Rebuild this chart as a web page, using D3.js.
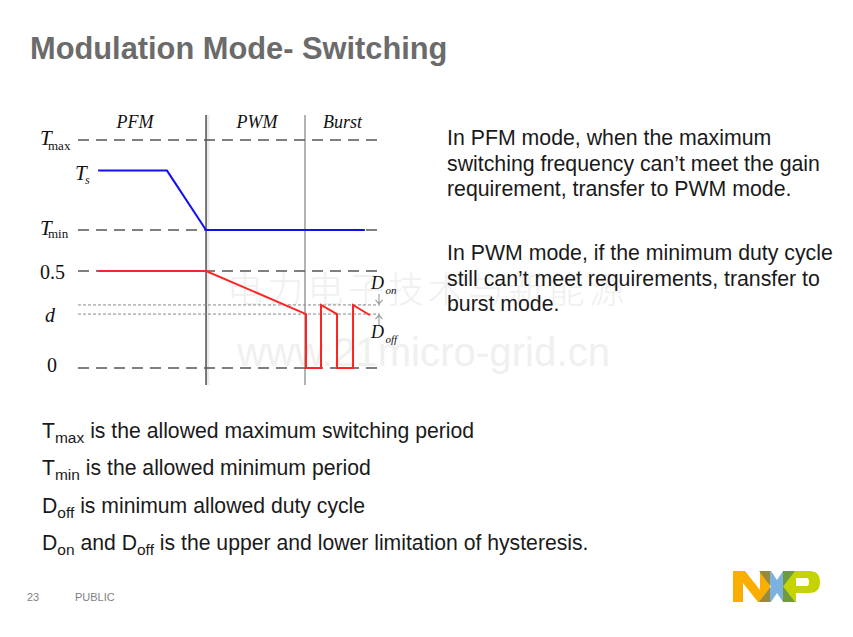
<!DOCTYPE html>
<html>
<head>
<meta charset="utf-8">
<script src="https://cdn.jsdelivr.net/npm/d3@7/dist/d3.min.js"></script>
<style>
  html, body { margin: 0; padding: 0; background: #fff; }
  svg { display: block; }
</style>
</head>
<body>
<div id="slide"></div>
<script>
// Modulation mode diagram: PFM -> PWM -> Burst

// mode regions, in time units along the diagram
const modeNames = ['PFM', 'PWM', 'Burst'];
const modeBounds = [0, 12.72, 22.55, 30];

// period axis (normalised so Tmin = 1, Tmax = 2)
const periodLevels = [
  {name: 'T', sub: 'max', value: 2},
  {name: 'T', sub: 'min', value: 1}
];
const tsLevel = 1.66;

// duty axis
const dutyLevels = [0.5, 0];
const hystLevels = [0.325, 0.278];   // Don upper / Doff lower

// switching period Ts (blue)
const periodSeries = [
  {t: 2.0, v: 1.66},
  {t: 8.84, v: 1.66},
  {t: 12.72, v: 1},
  {t: 28.5, v: 1}
];

// duty cycle d (red)
const dutySeries = [
  {t: 2.0, v: 0.5},
  {t: 12.72, v: 0.5},
  {t: 22.65, v: 0.278},
  {t: 22.65, v: 0},
  {t: 24.14, v: 0},
  {t: 24.14, v: 0.325},
  {t: 25.73, v: 0.278},
  {t: 25.73, v: 0},
  {t: 27.32, v: 0},
  {t: 27.32, v: 0.325},
  {t: 29.0, v: 0.272}
];

const rightText1 = [
  'In PFM mode, when the maximum',
  'switching frequency can\u2019t meet the gain',
  'requirement, transfer to PWM mode.'
];
const rightText2 = [
  'In PWM mode, if the minimum duty cycle',
  'still can\u2019t meet requirements, transfer to',
  'burst mode.'
];
const notes = [
  [{t: 'T'}, {t: 'max', sub: true}, {t: ' is the allowed maximum switching period'}],
  [{t: 'T'}, {t: 'min', sub: true}, {t: ' is the allowed minimum period'}],
  [{t: 'D'}, {t: 'off', sub: true}, {t: ' is minimum allowed duty cycle'}],
  [{t: 'D'}, {t: 'on', sub: true}, {t: ' and D'}, {t: 'off', sub: true}, {t: ' is the upper and lower limitation of hysteresis.'}]
];

const width = 853;
const height = 637;
const serif = '"Liberation Serif", "DejaVu Serif", serif';
const sans = '"Liberation Sans", Arial, sans-serif';

const svg = d3.select('#slide').append('svg')
  .attr('width', width)
  .attr('height', height);

// title
svg.append('text')
  .attr('x', 30)
  .attr('y', 59)
  .attr('fill', '#6b6b6b')
  .attr('font-family', sans)
  .attr('font-weight', 'bold')
  .attr('font-size', '30.8px')
  .text('Modulation Mode- Switching');

// watermark
svg.append('text')
  .attr('x', 227)
  .attr('y', 303)
  .attr('fill', '#f0f0f0')
  .attr('font-family', '"Noto Sans CJK SC", sans-serif')
  .attr('font-weight', 300)
  .attr('font-size', '36px')
  .attr('textLength', 398)
  .text('电力电子技术与新能源');
svg.append('text')
  .attr('x', 237)
  .attr('y', 366)
  .attr('fill', '#f0f0f0')
  .attr('font-family', sans)
  .attr('font-size', '40px')
  .attr('textLength', 373)
  .text('www.21micro-grid.cn');

// scales
const x = d3.scaleLinear().domain([0, 30]).range([78, 380]);
const periodY = d3.scaleLinear().domain([1, 2]).range([230, 140]);
const dutyY = d3.scaleLinear().domain([0, 0.5]).range([368, 271]);

const g = svg.append('g');

// mode separators
const sepColors = ['#333', '#8a8a8a'];
modeBounds.slice(1, -1).forEach((b, i) => {
  if (i === 0) {
    g.append('rect')
      .attr('x', x(b) + 0.8)
      .attr('y', 115)
      .attr('width', 2.6)
      .attr('height', 270)
      .attr('fill', '#ececec');
  }
  g.append('line')
    .attr('x1', x(b))
    .attr('x2', x(b))
    .attr('y1', 115)
    .attr('y2', 385)
    .attr('stroke', sepColors[i])
    .attr('stroke-width', 1.3);
});

// mode names
const labelShift = [-7, 1.5, 0];
g.selectAll('.mode-label')
  .data(modeNames)
  .enter().append('text')
  .attr('class', 'mode-label')
  .attr('x', (d, i) => (x(modeBounds[i]) + x(modeBounds[i + 1])) / 2 + labelShift[i])
  .attr('y', 128)
  .attr('text-anchor', 'middle')
  .attr('font-family', serif)
  .attr('font-style', 'italic')
  .attr('font-size', '18px')
  .attr('fill', '#111')
  .text(d => d);

// dashed reference lines
const dashStyle = {stroke: '#555', width: 1.4, dash: '11,7'};
periodLevels.forEach(l => {
  g.append('line')
    .attr('x1', x(0)).attr('x2', x(30))
    .attr('y1', periodY(l.value)).attr('y2', periodY(l.value))
    .attr('stroke', dashStyle.stroke)
    .attr('stroke-width', dashStyle.width)
    .attr('stroke-dasharray', dashStyle.dash);
});
dutyLevels.forEach(v => {
  g.append('line')
    .attr('x1', x(0)).attr('x2', x(30))
    .attr('y1', dutyY(v)).attr('y2', dutyY(v))
    .attr('stroke', dashStyle.stroke)
    .attr('stroke-width', dashStyle.width)
    .attr('stroke-dasharray', dashStyle.dash);
});
hystLevels.forEach(v => {
  g.append('line')
    .attr('x1', x(0)).attr('x2', x(30))
    .attr('y1', dutyY(v)).attr('y2', dutyY(v))
    .attr('stroke', '#8a8a8a')
    .attr('stroke-width', 1)
    .attr('stroke-dasharray', '3,2');
});

// left labels
periodLevels.forEach(l => {
  const t = g.append('text')
    .attr('font-family', serif)
    .attr('fill', '#111');
  t.append('tspan')
    .attr('x', 40)
    .attr('y', periodY(l.value) + 5)
    .attr('font-style', 'italic')
    .attr('font-size', '21px')
    .text(l.name);
  t.append('tspan')
    .attr('x', 48)
    .attr('y', periodY(l.value) + (l.sub === 'max' ? 10 : 8))
    .attr('font-size', '13px')
    .text(l.sub);
});

const tsText = g.append('text')
  .attr('font-family', serif)
  .attr('font-style', 'italic')
  .attr('fill', '#111');
tsText.append('tspan')
  .attr('x', 75)
  .attr('y', periodY(tsLevel) + 9)
  .attr('font-size', '21px')
  .text('T');
tsText.append('tspan')
  .attr('x', 85)
  .attr('y', periodY(tsLevel) + 13)
  .attr('font-size', '12px')
  .text('s');

g.append('text')
  .attr('x', 65)
  .attr('y', dutyY(0.5) + 8)
  .attr('text-anchor', 'end')
  .attr('font-family', serif)
  .attr('font-size', '20px')
  .attr('fill', '#111')
  .text('0.5');
g.append('text')
  .attr('x', 47)
  .attr('y', dutyY(0) + 4)
  .attr('font-family', serif)
  .attr('font-size', '20px')
  .attr('fill', '#111')
  .text('0');
g.append('text')
  .attr('x', 45)
  .attr('y', 322)
  .attr('font-family', serif)
  .attr('font-style', 'italic')
  .attr('font-size', '20px')
  .attr('fill', '#111')
  .text('d');

// hysteresis labels and arrows
const hystLabels = [
  {sub: 'on', y: 289},
  {sub: 'off', y: 338}
];
hystLabels.forEach(h => {
  const t = g.append('text')
    .attr('font-family', serif)
    .attr('font-style', 'italic')
    .attr('fill', '#111');
  t.append('tspan')
    .attr('x', 371)
    .attr('y', h.y)
    .attr('font-size', '18px')
    .text('D');
  t.append('tspan')
    .attr('x', 385.5)
    .attr('y', h.y + 5)
    .attr('font-size', '11px')
    .text(h.sub);
});

const ax = 379;
const yOn = dutyY(hystLevels[0]);
const yOff = dutyY(hystLevels[1]);
g.append('path')
  .attr('d', `M${ax},${yOn - 11}V${yOn - 1}M${ax - 3.5},${yOn - 5}L${ax},${yOn - 1}L${ax + 3.5},${yOn - 5}`)
  .attr('fill', 'none')
  .attr('stroke', '#999')
  .attr('stroke-width', 1.1);
g.append('path')
  .attr('d', `M${ax},${yOff + 11}V${yOff + 1}M${ax - 3.5},${yOff + 5}L${ax},${yOff + 1}L${ax + 3.5},${yOff + 5}`)
  .attr('fill', 'none')
  .attr('stroke', '#999')
  .attr('stroke-width', 1.1);

// waveforms
const periodLine = d3.line()
  .x(d => x(d.t))
  .y(d => periodY(d.v));
const dutyLine = d3.line()
  .x(d => x(d.t))
  .y(d => dutyY(d.v));

g.append('path')
  .datum(periodSeries)
  .attr('d', periodLine)
  .attr('fill', 'none')
  .attr('stroke', '#1010f0')
  .attr('stroke-width', 2);

g.append('path')
  .datum(dutySeries)
  .attr('d', dutyLine)
  .attr('fill', 'none')
  .attr('stroke', '#ff2424')
  .attr('stroke-width', 2);

// right-hand explanation
[rightText1, rightText2].forEach((block, bi) => {
  const base = bi === 0 ? 145 : 260;
  svg.append('text')
    .attr('font-family', sans)
    .attr('font-size', '21.3px')
    .attr('fill', '#1a1a1a')
    .selectAll('tspan')
    .data(block)
    .enter().append('tspan')
    .attr('x', 447)
    .attr('y', (d, i) => base + i * 25.5)
    .text(d => d);
});

// definitions below the diagram
notes.forEach((parts, i) => {
  const base = 438 + i * 37.3;
  const t = svg.append('text')
    .attr('x', 42)
    .attr('y', base)
    .attr('font-family', sans)
    .attr('font-size', '21.2px')
    .attr('fill', '#1a1a1a');
  parts.forEach((p, j) => {
    const prev = parts[j - 1];
    t.append('tspan')
      .attr('font-size', p.sub ? '15.5px' : '21.2px')
      .attr('dy', p.sub ? 5 : (prev && prev.sub ? -5 : 0))
      .text(p.t);
  });
});

// footer
svg.append('text')
  .attr('x', 27)
  .attr('y', 601)
  .attr('font-family', sans)
  .attr('font-size', '11px')
  .attr('fill', '#7f7f7f')
  .text('23');
svg.append('text')
  .attr('x', 75)
  .attr('y', 601)
  .attr('font-family', sans)
  .attr('font-size', '11px')
  .attr('fill', '#7f7f7f')
  .text('PUBLIC');

// NXP logo
const logo = svg.append('g');
const nPath = 'M733,571H745L760,590V571H770V602H758L743,583V602H733Z';
const xPath = 'M759,571H771L777,580L783,571H795L783,586.5L795,602H783L777,593L771,602H759L771,586.5Z';
const pPath = 'M783,571H809Q820,571 820,582Q820,593 809,593H796V602H783ZM796,578V586H807Q809,586 809,582Q809,578 807,578Z';
const defs = svg.append('defs');
defs.append('clipPath').attr('id', 'clipN').append('path').attr('d', nPath);
defs.append('clipPath').attr('id', 'clipP').append('path').attr('d', pPath).attr('clip-rule', 'evenodd');
logo.append('path').attr('d', nPath).attr('fill', '#f9ae00');
logo.append('path').attr('d', pPath).attr('fill', '#c5d300').attr('fill-rule', 'evenodd');
logo.append('path').attr('d', xPath).attr('fill', '#7cb2dd');
logo.append('path').attr('d', xPath).attr('fill', '#988a3a').attr('clip-path', 'url(#clipN)');
logo.append('path').attr('d', xPath).attr('fill', '#6f9b3a').attr('clip-path', 'url(#clipP)');
</script>
</body>
</html>
